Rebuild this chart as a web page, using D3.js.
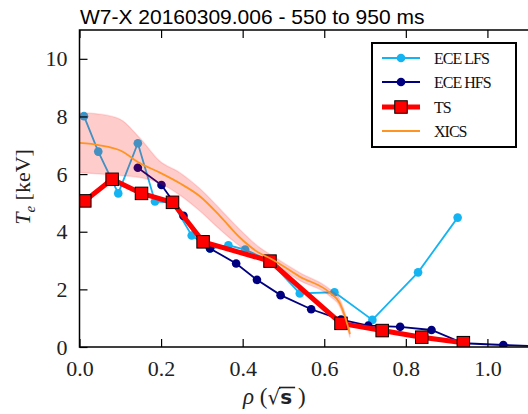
<!DOCTYPE html>
<html><head><meta charset="utf-8">
<script src="https://cdn.jsdelivr.net/npm/d3@7"></script>
<style>body{margin:0;background:#fff}svg{display:block}</style>
</head><body>
<script>
// ---- data ----
const lfsX = [0.011, 0.046, 0.095, 0.143, 0.185, 0.228, 0.275, 0.320, 0.365, 0.406, 0.465, 0.540, 0.625, 0.718, 0.830, 0.927];
const lfsY = [8.01, 6.78, 5.33, 7.07, 5.05, 5.00, 3.87, 3.42, 3.53, 3.38, 3.00, 1.86, 1.90, 0.94, 2.59, 4.49];
const hfsX = [0.143, 0.201, 0.255, 0.320, 0.384, 0.435, 0.493, 0.568, 0.641, 0.708, 0.786, 0.863, 0.941, 1.039, 1.12, 1.19];
const hfsY = [6.22, 5.62, 4.55, 3.42, 2.90, 2.33, 1.80, 1.31, 0.95, 0.74, 0.70, 0.59, 0.13, 0.07, 0.03, 0.02];
const tsX = [0.013, 0.080, 0.152, 0.228, 0.303, 0.467, 0.641, 0.742, 0.839, 0.941];
const tsY = [5.07, 5.82, 5.33, 5.02, 3.65, 2.98, 0.82, 0.57, 0.34, 0.15];
const xicsX = [0.0, 0.05, 0.10, 0.148, 0.197, 0.246, 0.295, 0.344, 0.393, 0.442, 0.467, 0.540, 0.614, 0.638, 0.651, 0.663];
const xicsY = [7.08, 7.00, 6.82, 6.38, 6.05, 5.68, 5.23, 4.55, 3.80, 3.25, 3.08, 2.44, 1.88, 1.52, 1.05, 0.45];
const xicsHi = [8.13, 8.08, 7.90, 7.25, 6.45, 6.05, 5.50, 4.80, 4.08, 3.45, 3.22, 2.58, 2.00, 1.66, 1.18, 0.57];
const xicsLo = [6.05, 6.00, 5.95, 5.88, 5.68, 5.27, 4.72, 4.08, 3.50, 3.05, 2.94, 2.30, 1.76, 1.40, 0.92, 0.33];
const xTicks = [0.0, 0.2, 0.4, 0.6, 0.8, 1.0, 1.2];
const xTickLabels = ["0.0", "0.2", "0.4", "0.6", "0.8", "1.0", ""];
const yTicks = [0, 2, 4, 6, 8, 10];
const seriesNames = ["ECE LFS", "ECE HFS", "TS", "XICS"];
const titleText = "W7-X 20160309.006 - 550 to 950 ms";

// ---- layout ----
const W = 528, H = 414;
const L = 79.5, R = 569, T = 30, B = 347;
const cLFS = "#14b4f2", cHFS = "#000080", cTS = "#ff0000", cX = "#ff9422";

const svg = d3.select("body").append("svg").attr("width", W).attr("height", H);
svg.append("rect").attr("width", W).attr("height", H).attr("fill", "#fff");

const x = d3.scaleLinear().domain([0, 1.2]).range([L, R]);
const y = d3.scaleLinear().domain([0, 11]).range([B, T]);

svg.append("clipPath").attr("id", "clip").append("rect")
  .attr("x", L).attr("y", T).attr("width", R - L).attr("height", B - T);
const g = svg.append("g").attr("clip-path", "url(#clip)");

const zip = (xs, ys) => xs.map((v, i) => [v, ys[i]]);
const line = d3.line().x(d => x(d[0])).y(d => y(d[1]));

// ECE LFS
const lfs = zip(lfsX, lfsY);
g.append("path").attr("d", line(lfs)).attr("fill", "none").attr("stroke", cLFS).attr("stroke-width", 1.8);
g.selectAll(".lfs").data(lfs).enter().append("circle")
  .attr("cx", d => x(d[0])).attr("cy", d => y(d[1])).attr("r", 4.3).attr("fill", cLFS);

// ECE HFS
const hfs = zip(hfsX, hfsY);
g.append("path").attr("d", line(hfs)).attr("fill", "none").attr("stroke", cHFS).attr("stroke-width", 1.8);
g.selectAll(".hfs").data(hfs).enter().append("circle")
  .attr("cx", d => x(d[0])).attr("cy", d => y(d[1])).attr("r", 4.3).attr("fill", cHFS);

// TS
const ts = zip(tsX, tsY);
g.append("path").attr("d", line(ts)).attr("fill", "none").attr("stroke", cTS).attr("stroke-width", 5).attr("stroke-linejoin", "round");
const sq = 12.5;
g.selectAll(".ts").data(ts).enter().append("rect")
  .attr("x", d => x(d[0]) - sq / 2).attr("y", d => y(d[1]) - sq / 2)
  .attr("width", sq).attr("height", sq).attr("fill", cTS).attr("stroke", "#000").attr("stroke-width", 1);

// XICS band + line
const band = xicsX.map((v, i) => [v, xicsLo[i], xicsHi[i]]);
const area = d3.area().x(d => x(d[0])).y0(d => y(d[1])).y1(d => y(d[2])).curve(d3.curveMonotoneX);
g.append("path").attr("d", area(band)).attr("fill", "rgba(255,0,0,0.2)")
  .attr("stroke", "rgba(255,0,0,0.12)").attr("stroke-width", 1.5);
const xics = zip(xicsX, xicsY);
g.append("path").attr("d", d3.line().x(d => x(d[0])).y(d => y(d[1])).curve(d3.curveMonotoneX)(xics))
  .attr("fill", "none").attr("stroke", cX).attr("stroke-width", 1.8);

// ---- axes ----
const serif = "'Liberation Serif', 'DejaVu Serif', serif";
const tickLen = 8;
svg.append("rect").attr("x", L).attr("y", T).attr("width", R - L).attr("height", B - T)
  .attr("fill", "none").attr("stroke", "#000").attr("stroke-width", 1.5);

const xb = svg.append("g").attr("transform", `translate(0,${B})`)
  .call(d3.axisBottom(x).tickValues(xTicks).tickSize(-tickLen).tickPadding(tickLen + 5)
    .tickFormat((d, i) => xTickLabels[i]));
const xt = svg.append("g").attr("transform", `translate(0,${T})`)
  .call(d3.axisTop(x).tickValues(xTicks).tickSize(-tickLen).tickFormat(""));
const yl = svg.append("g").attr("transform", `translate(${L},0)`)
  .call(d3.axisLeft(y).tickValues(yTicks).tickSize(-tickLen).tickPadding(tickLen + 4).tickFormat(d3.format("d")));
const yr = svg.append("g").attr("transform", `translate(${R},0)`)
  .call(d3.axisRight(y).tickValues(yTicks).tickSize(-tickLen).tickFormat(""));
[xb, xt, yl, yr].forEach(a => {
  a.select(".domain").remove();
  a.selectAll(".tick line").attr("stroke", "#000").attr("stroke-width", 1.2);
  a.selectAll("text").attr("font-family", serif).attr("font-size", 22).attr("fill", "#222");
});
xb.selectAll("text").attr("dy", "0.71em");
xb.selectAll("text").filter(function () { return this.textContent === ""; }).remove();
xt.selectAll("text").remove();
yr.selectAll("text").remove();

// title
svg.append("text").attr("x", 80).attr("y", 24).attr("font-family", "'Liberation Sans', Arial, sans-serif")
  .attr("font-size", 21).attr("fill", "#000").text(titleText);

// y label
const ylab = svg.append("text").attr("transform", "translate(30,187) rotate(-90)")
  .attr("text-anchor", "middle").attr("font-family", serif).attr("font-size", 22).attr("fill", "#222");
ylab.append("tspan").attr("font-style", "italic").text("T");
ylab.append("tspan").attr("font-style", "italic").attr("font-size", 15).attr("dy", 5).text("e");
ylab.append("tspan").attr("dy", -5).text(" [keV]");

// x label
const xlab = svg.append("text").attr("x", 243).attr("y", 404).attr("font-family", serif).attr("font-size", 23).attr("fill", "#222");
xlab.append("tspan").attr("font-style", "italic").text("ρ");
xlab.append("tspan").text(" (");
xlab.append("tspan").attr("font-family", "'DejaVu Sans', sans-serif").attr("font-size", 20).text("√");
xlab.append("tspan").attr("font-family", "'DejaVu Sans', sans-serif").attr("font-weight", "bold").attr("font-size", 20).text("s");
xlab.append("tspan").text(" )");
const nodes = xlab.selectAll("tspan").nodes();
const sBox = nodes[3].getBBox();
const rBox = nodes[2].getBBox();
svg.append("line").attr("x1", rBox.x + rBox.width - 1.5).attr("x2", sBox.x + sBox.width + 3)
  .attr("y1", rBox.y + 2.5).attr("y2", rBox.y + 2.5).attr("stroke", "#222").attr("stroke-width", 1.6);

// ---- legend ----
const lg = svg.append("g");
lg.append("rect").attr("x", 372).attr("y", 43).attr("width", 144).attr("height", 104)
  .attr("fill", "#fff").attr("stroke", "#000").attr("stroke-width", 2);
const rows = [58, 82, 107, 131];
const lx1 = 382, lx2 = 420, lmx = 401;
lg.append("line").attr("x1", lx1).attr("x2", lx2).attr("y1", rows[0]).attr("y2", rows[0]).attr("stroke", cLFS).attr("stroke-width", 1.8);
lg.append("circle").attr("cx", lmx).attr("cy", rows[0]).attr("r", 4.3).attr("fill", cLFS);
lg.append("line").attr("x1", lx1).attr("x2", lx2).attr("y1", rows[1]).attr("y2", rows[1]).attr("stroke", cHFS).attr("stroke-width", 1.8);
lg.append("circle").attr("cx", lmx).attr("cy", rows[1]).attr("r", 4.3).attr("fill", cHFS);
lg.append("line").attr("x1", lx1).attr("x2", lx2).attr("y1", rows[2]).attr("y2", rows[2]).attr("stroke", cTS).attr("stroke-width", 5);
lg.append("rect").attr("x", lmx - sq / 2).attr("y", rows[2] - sq / 2).attr("width", sq).attr("height", sq)
  .attr("fill", cTS).attr("stroke", "#000").attr("stroke-width", 1);
lg.append("line").attr("x1", lx1).attr("x2", lx2).attr("y1", rows[3]).attr("y2", rows[3]).attr("stroke", cX).attr("stroke-width", 1.8);
seriesNames.forEach((n, i) => {
  lg.append("text").attr("x", 434).attr("y", rows[i] + 5.5).attr("font-family", serif)
    .attr("font-size", 16).attr("letter-spacing", -1).attr("fill", "#111").text(n);
});
</script>
</body></html>
